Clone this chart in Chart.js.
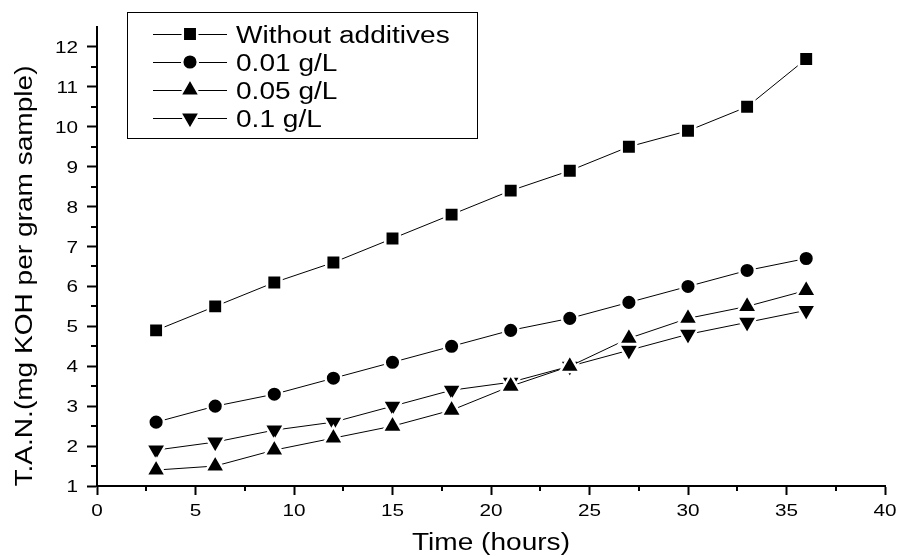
<!DOCTYPE html>
<html>
<head>
<meta charset="utf-8">
<script src="https://cdn.jsdelivr.net/npm/chart.js@4"></script>
<style>
  html, body { margin: 0; padding: 0; background: #fff; }
  #wrap { width: 902px; height: 556px; }
</style>
</head>
<body>
<div id="wrap"><canvas id="tanChart" width="902" height="556"></canvas></div>
<script>
const hours = [3, 6, 9, 12, 15, 18, 21, 24, 27, 30, 33, 36];
const noAdditive = [4.9, 5.5, 6.1, 6.6, 7.2, 7.8, 8.4, 8.9, 9.5, 9.9, 10.5, 11.7];
const add001 = [2.6, 3.0, 3.3, 3.7, 4.1, 4.5, 4.9, 5.2, 5.6, 6.0, 6.4, 6.7];
const add005 = [1.4, 1.5, 1.9, 2.2, 2.5, 2.9, 3.5, 4.0, 4.7, 5.2, 5.5, 5.9];
const add01 = [1.9, 2.1, 2.4, 2.6, 3.0, 3.4, 3.6, 4.0, 4.4, 4.8, 5.1, 5.4];
const seriesNames = ['Without additives', '0.01 g/L', '0.05 g/L', '0.1 g/L'];
const xTitle = 'Time (hours)';
const yTitle = 'T.A.N.(mg KOH per gram sample)';

const FONT = '"Liberation Sans", Arial, sans-serif';
const STRETCH = 1.22; // original text is a wide Arial
const HALO = 2.5;     // white rim that cuts the lines near each marker

function pts(ys) {
  return hours.map((h, i) => ({ x: h, y: ys[i] }));
}

function makeSet(label, ys, style, radius, rotation) {
  return {
    label: label,
    data: pts(ys),
    borderColor: '#000',
    backgroundColor: '#000',
    borderWidth: 1,
    pointStyle: style,
    pointRadius: radius,
    pointRotation: rotation || 0,
    pointBorderWidth: HALO,
    pointBorderColor: '#fff',
    pointBackgroundColor: '#000',
    tension: 0
  };
}

// text drawn wider than the font, like the source picture
function wideText(c, txt, x, y, align, rot) {
  c.save();
  c.translate(x, y);
  if (rot) c.rotate(rot);
  c.scale(STRETCH, 1);
  c.textAlign = align;
  c.textBaseline = 'alphabetic';
  c.fillText(txt, 0, 0);
  c.restore();
}

const extras = {
  id: 'extras',
  afterDraw(chart) {
    const c = chart.ctx;
    const xs = chart.scales.x, ys = chart.scales.y;
    c.save();
    c.strokeStyle = '#000';
    c.fillStyle = '#000';
    c.lineWidth = 2;
    // minor ticks
    for (let v = 2.5; v < 40; v += 5) {
      const px = Math.round(xs.getPixelForValue(v));
      c.beginPath(); c.moveTo(px, xs.top); c.lineTo(px, xs.top + 5); c.stroke();
    }
    for (let v = 1.5; v < 12.5; v += 1) {
      const py = Math.round(ys.getPixelForValue(v));
      c.beginPath(); c.moveTo(ys.right, py); c.lineTo(ys.right - 6, py); c.stroke();
    }
    // tick labels
    c.font = '17px ' + FONT;
    xs.ticks.forEach(t => {
      wideText(c, String(t.value), xs.getPixelForValue(t.value), 516, 'center');
    });
    ys.ticks.forEach(t => {
      wideText(c, String(t.value), 78, ys.getPixelForValue(t.value) + 6, 'right');
    });
    // axis titles
    c.font = '23px ' + FONT;
    wideText(c, xTitle, 491, 550, 'center');
    wideText(c, yTitle, 32, 276, 'center', -Math.PI / 2);
    // legend
    c.lineWidth = 1;
    c.strokeRect(127.5, 12.5, 350, 126);
    chart.data.datasets.forEach((ds, i) => {
      const y = 34 + i * 28;
      c.strokeStyle = '#000';
      c.lineWidth = 1;
      c.beginPath(); c.moveTo(153, y + 0.5); c.lineTo(227, y + 0.5); c.stroke();
      c.strokeStyle = '#fff';
      c.lineWidth = HALO;
      Chart.helpers.drawPoint(c, { pointStyle: ds.pointStyle, rotation: ds.pointRotation, radius: ds.pointRadius, borderWidth: HALO }, 190, y);
      wideText(c, ds.label, 236, y + 8.5, 'left');
    });
    c.restore();
  }
};

const ctx = document.getElementById('tanChart').getContext('2d');
const chart = new Chart(ctx, {
  type: 'line',
  data: {
    datasets: [
      makeSet(seriesNames[0], noAdditive, 'rect', 10.2),
      makeSet(seriesNames[1], add001, 'circle', 7.8),
      makeSet(seriesNames[2], add005, 'triangle', 11.5),
      makeSet(seriesNames[3], add01, 'triangle', 11.5, 180)
    ]
  },
  options: {
    responsive: false,
    animation: false,
    layout: { padding: { top: 27, right: 17, left: 0, bottom: 0 } },
    plugins: {
      legend: { display: false },
      tooltip: { enabled: false }
    },
    scales: {
      x: {
        type: 'linear',
        min: 0,
        max: 40,
        ticks: { stepSize: 5, display: false },
        grid: { drawOnChartArea: false, drawTicks: true, tickLength: 9, tickColor: '#000', tickWidth: 2 },
        border: { color: '#000', width: 2 },
        afterFit(s) { s.height = 70; }
      },
      y: {
        type: 'linear',
        min: 1,
        max: 12.5,
        afterBuildTicks(s) {
          s.ticks = [];
          for (let v = 1; v <= 12; v++) s.ticks.push({ value: v });
        },
        ticks: { display: false },
        grid: { drawOnChartArea: false, drawTicks: true, tickLength: 10, tickColor: '#000', tickWidth: 2 },
        border: { color: '#000', width: 2 },
        afterFit(s) { s.width = 97; }
      }
    }
  },
  plugins: [extras]
});
</script>
</body>
</html>
